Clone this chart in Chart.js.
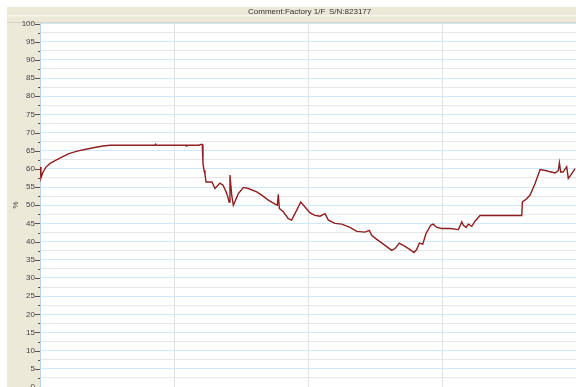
<!DOCTYPE html>
<html>
<head>
<meta charset="utf-8">
<script src="https://cdn.jsdelivr.net/npm/chart.js@4"></script>
<style>
  html, body { margin: 0; padding: 0; background: #fff; overflow: hidden; }
</style>
</head>
<body>
<canvas id="logChart" width="576" height="387"></canvas>
<script>
const titleText = "Comment:Factory 1/F";
const serialText = "S/N:823177";
const unitLabel = "%";

// logger samples: elapsed time (axis units) and reading in %
const elapsed = [0, 0.7, 1.5, 2.5, 4.4, 7.5, 11.9, 16.5, 21.5, 27.5, 34.1, 40.5, 46.7, 51.9,
  85.0, 85.6, 86.2, 108.0, 108.4, 108.8, 117.8,
  119.8, 120.2, 120.7, 121.5, 122.2, 123.0, 127.4, 129.6, 133.3, 135.6, 137.8, 139.0, 140.0,
  140.7, 142.0, 143.2, 146.9, 150.6, 154.3, 160.5, 164.2, 169.1, 174.1, 175.8, 176.5, 177.3,
  180.2, 183.9, 186.4, 188.1, 190.1, 193.1, 196.3, 200.0, 203.7, 207.4, 211.1, 213.6, 218.5,
  223.5, 229.6, 234.6, 240.7, 243.9, 245.7, 249.4, 254.3, 260.5, 263.0, 266.1, 270.4, 274.1,
  277.0, 279.0, 281.0, 283.5, 285.9, 289.4, 291.3, 293.9, 297.6, 303.7, 309.9, 312.4, 313.6,
  315.6, 317.3, 319.8, 322.2, 325.9, 356.8, 357.3, 360.5, 363.0, 366.7, 370.4, 375.3, 377.8,
  381.5, 383.9, 384.7, 385.7, 387.6, 390.1, 391.3, 393.1, 396.3];
const reading = [60.5, 57.5, 58.4, 59.3, 60.5, 61.5, 62.4, 63.3, 64.2, 64.9, 65.4, 65.9, 66.3, 66.5,
  66.5, 66.8, 66.5, 66.5, 66.3, 66.5, 66.5,
  66.8, 66.7, 61.5, 59.6, 58.5, 56.4, 56.4, 54.6, 56.1, 55.5, 53.7, 52.5, 50.9,
  58.3, 52.8, 50.0, 53.2, 54.9, 54.6, 53.7, 52.8, 51.4, 50.3, 50.0, 53.0, 49.1,
  48.2, 46.3, 45.9, 47.2, 48.6, 50.9, 49.5, 47.9, 47.2, 47.0, 47.7, 45.9, 45.0,
  44.8, 43.9, 42.8, 42.6, 43.1, 41.7, 40.6, 39.3, 37.6, 38.1, 39.6, 38.7, 37.8,
  37.0, 37.8, 39.6, 39.3, 42.2, 44.5, 44.8, 43.9, 43.6, 43.6, 43.3, 45.4, 44.5,
  43.9, 44.8, 44.2, 45.6, 47.2, 47.2, 50.9, 51.8, 52.8, 56.0, 59.8, 59.5, 59.2,
  58.9, 59.5, 61.7, 59.1, 59.2, 60.6, 57.4, 58.3, 60.1];

const yMin = 0, yMax = 100, yStep = 2.5;
const xMin = 0, xMax = 397, xStep = 100;

const panel = "#ECE9D8";

// window frame: white margin, beige header strip and beige axis panel
const framePlugin = {
  id: "frame",
  beforeDraw(chart) {
    const ctx = chart.ctx;
    const W = chart.width, H = chart.height;
    ctx.save();
    ctx.fillStyle = "#fff";
    ctx.fillRect(0, 0, W, H);
    ctx.fillStyle = panel;
    ctx.fillRect(7, 7, W - 7, 16);
    ctx.fillRect(7, 22, 33, H - 22);
    ctx.fillStyle = "#F6F4EC";
    ctx.fillRect(7, 15, W - 7, 1.5);
    ctx.fillStyle = "#D8D4C4";
    ctx.fillRect(7, 22, W - 7, 1);
    ctx.fillStyle = "#333";
    ctx.font = "8px 'Liberation Sans', Arial, sans-serif";
    ctx.textBaseline = "middle";
    ctx.textAlign = "left";
    ctx.fillText(titleText, 248, 12);
    ctx.fillText(serialText, 329, 12);
    ctx.translate(16, 205);
    ctx.rotate(-Math.PI / 2);
    ctx.textAlign = "center";
    ctx.fillStyle = "#444";
    ctx.fillText(unitLabel, 0, 0);
    ctx.restore();
  },
  afterDraw(chart) {
    const ctx = chart.ctx;
    const y = chart.scales.y;
    const left = chart.chartArea.left;
    ctx.save();
    ctx.strokeStyle = "#555";
    ctx.lineWidth = 1;
    for (let v = yMin; v <= yMax; v += yStep) {
      const py = Math.round(y.getPixelForValue(v)) + 0.5;
      const len = v % 5 === 0 ? 5 : 2;
      ctx.beginPath();
      ctx.moveTo(left - len, py);
      ctx.lineTo(left, py);
      ctx.stroke();
    }
    ctx.restore();
  }
};

new Chart(document.getElementById("logChart"), {
  type: "line",
  data: {
    datasets: [{
      data: elapsed.map((t, i) => ({ x: t, y: reading[i] })),
      borderColor: "#8E1F1F",
      borderWidth: 1.4,
      pointRadius: 0,
      tension: 0,
      fill: false
    }]
  },
  options: {
    responsive: false,
    animation: false,
    layout: { padding: { top: 23.5, bottom: 0, left: 0, right: 0 } },
    plugins: { legend: { display: false }, tooltip: { enabled: false } },
    scales: {
      x: {
        type: "linear",
        min: xMin,
        max: xMax,
        ticks: { display: false, stepSize: xStep },
        border: { display: false },
        grid: {
          drawTicks: false,
          color: c => (c.tick && c.tick.value === 200 ? "#CFE8F8" : "#E2E2E2"),
          lineWidth: c => (c.tick && (c.tick.value === 0) ? 0 : 1)
        },
        afterFit(scale) { scale.height = 0; }
      },
      y: {
        min: yMin,
        max: yMax,
        ticks: {
          stepSize: yStep,
          autoSkip: false,
          padding: 5,
          color: "#444",
          font: { family: "'Liberation Sans', Arial, sans-serif", size: 8 },
          callback: v => (v % 5 === 0 ? String(v) : "")
        },
        border: { display: true, color: "#B8D4EA", width: 1 },
        grid: {
          drawTicks: false,
          color: c => (c.tick && c.tick.value % 5 === 0 ? "#CDE9FA" : "#E6E6E6"),
          lineWidth: 1
        },
        afterFit(scale) {
          scale.width = 40;
          scale.paddingTop = 0;
          scale.paddingBottom = 0;
        }
      }
    }
  },
  plugins: [framePlugin]
});
</script>
</body>
</html>
